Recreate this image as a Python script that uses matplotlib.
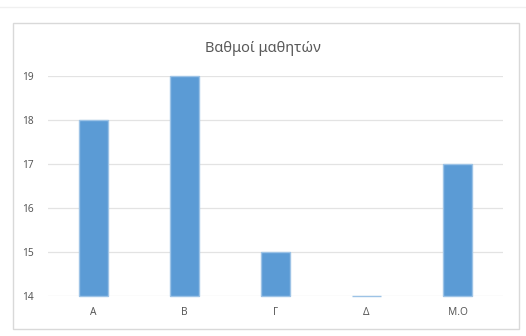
import matplotlib
matplotlib.use('Agg')
import matplotlib.pyplot as plt
from matplotlib.patches import Rectangle
from matplotlib.lines import Line2D

plt.rcParams['font.family'] = ['Noto Sans', 'DejaVu Sans']

# βαθμοί ανά μαθητή και μέσος όρος
categories = ['Α', 'Β', 'Γ', 'Δ', 'Μ.Ο']
grades = [18, 19, 15, 14, 17]
yticks = [14, 15, 16, 17, 18, 19]
title = 'Βαθμοί μαθητών'

base = 14
fig = plt.figure(figsize=(5.26, 3.36), dpi=100)
fig.patch.set_facecolor('white')

# πλαίσιο γραφήματος και λεπτή γραμμή στην κορυφή
fig.patches.append(Rectangle((0.0247, 0.0208), 0.962, 0.911, transform=fig.transFigure,
                             fill=False, edgecolor='#d9d9d9', linewidth=1.0))
fig.lines.append(Line2D([0.0, 1.0], [0.979, 0.979], transform=fig.transFigure,
                        color='#f0f0f0', linewidth=1.0))

ax = fig.add_axes([0.0913, 0.119, 0.865, 0.655])
x = list(range(len(categories)))
heights = [g - base for g in grades]
ax.bar(x, heights, bottom=base, width=0.32, color='#5b9bd5',
       edgecolor='#9dc3e6', linewidth=1.0, zorder=3, clip_on=False)

ax.set_xlim(-0.5, len(categories) - 0.5)
ax.set_ylim(14, 19)
ax.set_yticks(yticks)
ax.set_xticks(x)
ax.set_xticklabels(categories)
ax.grid(axis='y', color='#e3e3e3', linewidth=0.9, zorder=0)
for s in ax.spines.values():
    s.set_visible(False)
ax.tick_params(axis='both', length=0, labelsize=7.3, labelcolor='#595959')
ax.tick_params(axis='y', pad=10)
ax.tick_params(axis='x', pad=8)

fig.text(0.5, 0.855, title, ha='center', va='center', fontsize=10.5, color='#595959')

fig.savefig('out.png', dpi=100, facecolor='white')
